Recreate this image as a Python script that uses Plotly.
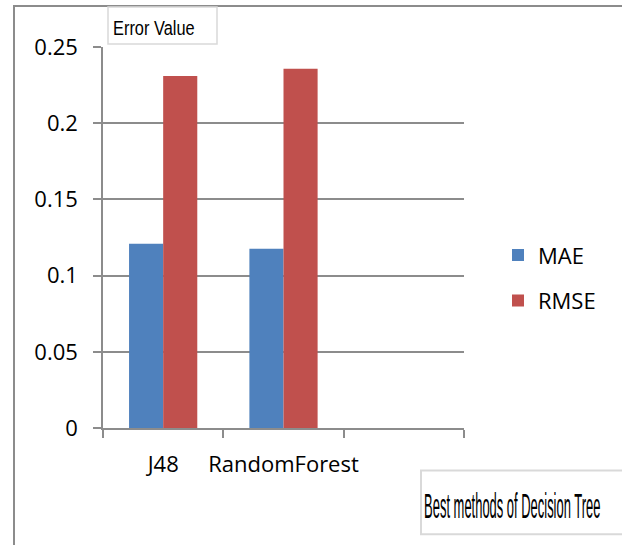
import plotly.graph_objects as go

categories = ["J48", "RandomForest", " "]
mae = [0.1209, 0.1176, None]
rmse = [0.231, 0.2358, None]
series_names = ["MAE", "RMSE"]
colors = ["#4F81BD", "#C0504D"]
y_ticks = [0, 0.05, 0.1, 0.15, 0.2, 0.25]
y_ticktext = ["0", "0.05", "0.1", "0.15", "0.2", "0.25"]
y_title = "Error Value"
x_title = "Best methods of Decision Tree"

W, H = 622, 545
L, R, T, B = 103, 158, 47, 116.5
pw = W - L - R
ph = H - T - B

def px_x(p):
    return (p - L) / pw

def px_y(p):
    return (H - B - p) / ph

main_font = "Open Sans, Lato, sans-serif"
box_font = "Liberation Sans, Arial, sans-serif"

fig = go.Figure()
for name, vals, col in zip(series_names, [mae, rmse], colors):
    fig.add_trace(go.Bar(x=categories, y=vals, name=name, marker_color=col,
                         marker_line_width=0, legendgroup=name))

fig.update_layout(
    width=W, height=H,
    margin=dict(l=L, r=R, t=T, b=B, autoexpand=False),
    paper_bgcolor="white", plot_bgcolor="white",
    barmode="group", bargap=0.433, bargroupgap=0,
    font=dict(family=main_font, size=22, color="#000000"),
    showlegend=True,
    legend=dict(x=px_x(498), y=px_y(278.5), xanchor="left", yanchor="middle",
                tracegroupgap=14, itemwidth=30, bgcolor="rgba(0,0,0,0)",
                font=dict(family=main_font, size=22)),
    xaxis=dict(type="category", categoryorder="array", categoryarray=categories,
               range=[-0.5, 2.5], tickson="boundaries", ticks="outside", ticklen=8,
               tickangle=0,
               tickcolor="#8c8c8c", tickwidth=1.5, showline=True, linecolor="#8c8c8c",
               linewidth=1.5, showgrid=False, ticklabelstandoff=16, fixedrange=True),
    yaxis=dict(range=[0, 0.25], tickvals=y_ticks, ticktext=y_ticktext, ticks="outside",
               ticklen=8, tickcolor="#8c8c8c", tickwidth=1.5, showline=True,
               linecolor="#8c8c8c", linewidth=1.5, showgrid=True, gridcolor="#8c8c8c",
               gridwidth=1.5, zeroline=False, ticklabelstandoff=11, fixedrange=True),
)

# outer chart border
fig.add_shape(type="rect", xref="paper", yref="paper",
              x0=px_x(14), x1=px_x(700), y0=px_y(620), y1=px_y(6),
              line=dict(color="#8c8c8c", width=2), fillcolor="rgba(0,0,0,0)", layer="below")
# title boxes
fig.add_shape(type="rect", xref="paper", yref="paper",
              x0=px_x(108), x1=px_x(217), y0=px_y(44), y1=px_y(7),
              line=dict(color="#d9d9d9", width=1.5), fillcolor="white", layer="above")
fig.add_shape(type="rect", xref="paper", yref="paper",
              x0=px_x(421), x1=px_x(700), y0=px_y(535), y1=px_y(471),
              line=dict(color="#d9d9d9", width=2), fillcolor="white", layer="above")

fig.add_annotation(text=y_title, xref="paper", yref="paper", x=px_x(112), y=px_y(28),
                   xanchor="left", yanchor="middle", showarrow=False, borderpad=0,
                   font=dict(family=box_font, size=19.5, color="#000"))
fig.add_annotation(text=x_title, xref="paper", yref="paper", x=px_x(423), y=px_y(506),
                   xanchor="left", yanchor="middle", showarrow=False, borderpad=0,
                   font=dict(family=box_font, size=35, color="#000"))

post = """
document.body.style.margin = '0';
var gd = document.getElementById('{plot_id}');
var sx = [0.84, 0.37];
gd.querySelectorAll('.annotation-text').forEach(function(t, i) {
  t.style.transformBox = 'fill-box';
  t.style.transformOrigin = '0% 50%';
  t.style.transform = 'scaleX(' + sx[i] + ')';
});
"""

fig.write_html("out.html", post_script=post, config={"displayModeBar": False})
